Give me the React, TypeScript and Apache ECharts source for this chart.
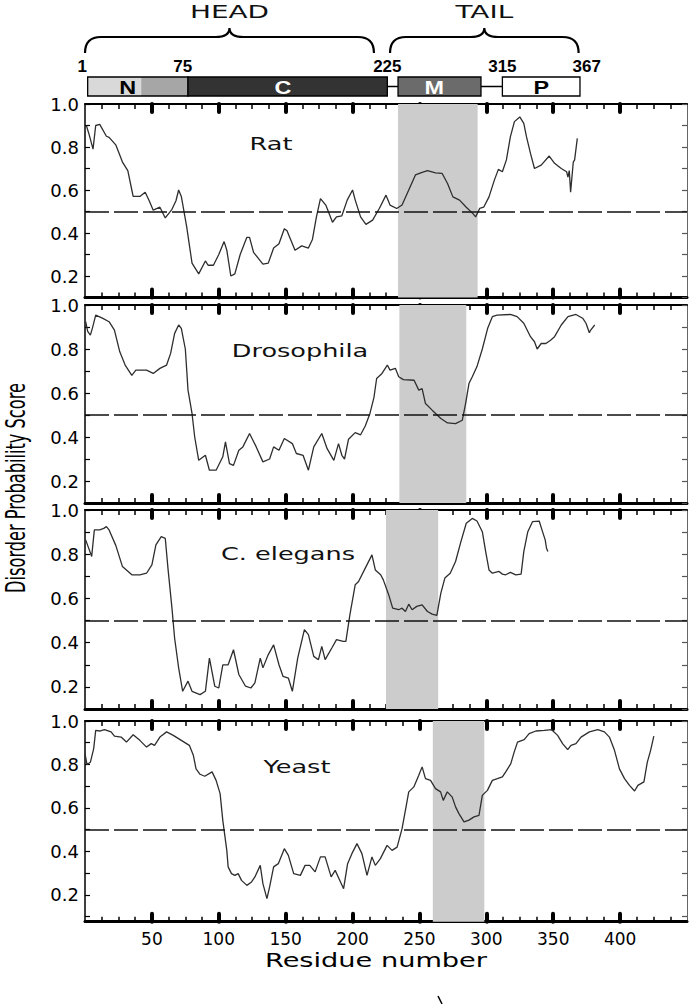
import React, { useEffect, useRef } from "react";
import * as echarts from "echarts";

// ---------- axis ticks ----------
const residueTicks = [50, 100, 150, 200, 250, 300, 350, 400];
const scoreLabels = [0.2, 0.4, 0.6, 0.8, 1.0];
const scoreTicks = [0.1, 0.2, 0.3, 0.4, 0.5, 0.6, 0.7, 0.8, 0.9, 1.0];
const threshold = 0.5;

// ---------- species ----------
const speciesNames = ["Rat", "Drosophila", "C. elegans", "Yeast"];

const ratScores = [
  [1, 0.9], [3, 0.86], [6, 0.79], [8, 0.9], [11, 0.905], [16, 0.85], [18, 0.845], [23, 0.81], [28, 0.73],
  [32, 0.69], [35, 0.6], [36, 0.57], [41, 0.57], [45, 0.59], [48, 0.55], [51, 0.506], [56, 0.52], [60, 0.47],
  [65, 0.51], [68, 0.55], [70, 0.6], [72, 0.57], [76, 0.43], [80, 0.26], [85, 0.21], [90, 0.27], [92, 0.25],
  [96, 0.25], [100, 0.3], [104, 0.36], [106, 0.32], [109, 0.2], [112, 0.21], [116, 0.3], [121, 0.38], [123, 0.38],
  [126, 0.31], [133, 0.255], [137, 0.26], [141, 0.33], [145, 0.35], [149, 0.42], [151, 0.41], [157, 0.32],
  [162, 0.34], [167, 0.33], [170, 0.37], [173, 0.475], [176, 0.56], [180, 0.53], [185, 0.45], [188, 0.475],
  [192, 0.48], [196, 0.553], [200, 0.6], [202, 0.553], [206, 0.475], [210, 0.44], [215, 0.46], [220, 0.514],
  [225, 0.576], [228, 0.53], [233, 0.514], [237, 0.53], [242, 0.6], [247, 0.67], [251, 0.68], [256, 0.69],
  [262, 0.68], [267, 0.677], [271, 0.63], [275, 0.568], [280, 0.553], [285, 0.52], [290, 0.49], [292, 0.475],
  [295, 0.514], [298, 0.52], [302, 0.568], [306, 0.646], [309, 0.696], [312, 0.685], [315, 0.74], [318, 0.848],
  [321, 0.918], [325, 0.94], [328, 0.91], [330, 0.848], [333, 0.77], [336, 0.7], [341, 0.716], [347, 0.758],
  [351, 0.724], [356, 0.7], [360, 0.685], [361, 0.66], [362, 0.69], [363, 0.59], [365, 0.73], [366, 0.74], [368, 0.84],
];

const drosophilaScores = [
  [0.5, 0.924], [2, 0.88], [4, 0.863], [5.5, 0.894], [8, 0.954], [13, 0.94], [18, 0.924], [22, 0.886], [26, 0.787],
  [30, 0.727], [35, 0.68], [38, 0.704], [46, 0.704], [51, 0.689], [56, 0.712], [61, 0.727], [64, 0.78], [67, 0.871],
  [70, 0.909], [72, 0.894], [75, 0.8], [77, 0.613], [80, 0.507], [82, 0.4], [85, 0.294], [90, 0.317], [93, 0.249],
  [98, 0.249], [103, 0.31], [105, 0.378], [108, 0.279], [111, 0.271], [115, 0.34], [118, 0.355], [123, 0.416],
  [128, 0.355], [133, 0.287], [138, 0.3], [141, 0.355], [145, 0.34], [149, 0.393], [155, 0.37], [158, 0.325],
  [163, 0.317], [167, 0.249], [171, 0.355], [177, 0.416], [181, 0.347], [186, 0.294], [189.5, 0.37], [192, 0.317],
  [194, 0.3], [197, 0.39], [202, 0.42], [206, 0.41], [209.5, 0.45], [213, 0.507], [216, 0.58], [218, 0.666],
  [222, 0.689], [226, 0.727], [228, 0.704], [232, 0.712], [234.5, 0.674], [238, 0.661], [246, 0.658], [249.5, 0.613],
  [252, 0.62], [254.5, 0.552], [259.5, 0.522], [266, 0.484], [271, 0.464], [277, 0.461], [282, 0.476], [284.5, 0.552],
  [287, 0.643], [289.5, 0.674], [293, 0.72], [297, 0.8], [301, 0.894], [304.5, 0.947], [308, 0.954], [318, 0.957],
  [323, 0.947], [328, 0.917], [333, 0.856], [336, 0.833], [338, 0.8], [341, 0.825], [344.5, 0.825], [348, 0.84],
  [351, 0.856], [356, 0.909], [361, 0.947], [367, 0.957], [372, 0.94], [374.5, 0.917], [377, 0.874], [378, 0.886],
  [381, 0.909],
];

const elegansScores = [
  [0.5, 0.865], [2, 0.84], [5, 0.79], [7, 0.91], [11, 0.91], [14, 0.917], [16, 0.925], [18, 0.91], [23, 0.84],
  [28, 0.744], [35, 0.707], [41, 0.707], [46, 0.714], [50, 0.752], [53, 0.842], [57, 0.88], [60, 0.872], [62, 0.737],
  [65, 0.556], [67, 0.42], [70, 0.286], [73, 0.18], [77, 0.226], [80, 0.18], [86, 0.165], [90, 0.18], [93, 0.33],
  [97, 0.203], [100, 0.195], [103, 0.3], [107, 0.3], [111, 0.368], [115, 0.256], [120, 0.203], [124, 0.195],
  [127, 0.218], [131, 0.33], [133, 0.286], [137, 0.346], [141, 0.39], [145, 0.3], [148, 0.248], [152, 0.24],
  [155, 0.18], [159, 0.33], [164, 0.459], [167, 0.436], [171, 0.338], [174.5, 0.323], [177, 0.383], [179.5, 0.323],
  [184.5, 0.376], [188, 0.414], [193, 0.406], [195, 0.406], [198, 0.526], [202, 0.662], [204.5, 0.677],
  [209.5, 0.737], [214.5, 0.797], [217, 0.729], [221, 0.707], [223, 0.684], [227, 0.617], [230, 0.556],
  [234.5, 0.549], [237, 0.556], [239.5, 0.541], [242, 0.574], [244.5, 0.549], [248, 0.564], [252, 0.571],
  [256, 0.541], [259.5, 0.529], [263, 0.523], [266, 0.624], [269, 0.692], [273, 0.714], [277, 0.767], [281, 0.857],
  [285, 0.94], [289.5, 0.962], [293, 0.95], [297, 0.902], [299.5, 0.812], [302, 0.729], [304.5, 0.714],
  [309.5, 0.722], [312, 0.71], [314.5, 0.707], [318, 0.718], [322, 0.707], [326, 0.71], [328, 0.812], [331, 0.902],
  [334.5, 0.947], [339.5, 0.95], [342, 0.902], [344, 0.865], [345, 0.827], [346, 0.812],
];

const yeastScores = [
  [0, 0.85], [1.5, 0.8], [4, 0.81], [6.5, 0.873], [8, 0.957], [11, 0.954], [14.5, 0.96], [19.5, 0.95], [22, 0.93],
  [27, 0.926], [31, 0.903], [36, 0.937], [41, 0.911], [46, 0.88], [49.5, 0.896], [52, 0.888], [56, 0.926], [61, 0.95],
  [66, 0.934], [72, 0.911], [78, 0.888], [81, 0.842], [83, 0.78], [86, 0.755], [89.5, 0.746], [95, 0.766],
  [98, 0.727], [101, 0.666], [103, 0.543], [106, 0.405], [107, 0.329], [109.5, 0.298], [112, 0.29], [114.5, 0.298],
  [117, 0.267], [121, 0.244], [124.5, 0.26], [127, 0.283], [131, 0.336], [133, 0.252], [136, 0.183], [138, 0.237],
  [141, 0.329], [144.5, 0.344], [149, 0.413], [152, 0.382], [156, 0.298], [161, 0.29], [164.5, 0.336], [168, 0.336],
  [172, 0.306], [176, 0.375], [179.5, 0.375], [184, 0.283], [187, 0.313], [191, 0.26], [193.3, 0.229],
  [196.3, 0.344], [199.5, 0.39], [203.3, 0.436], [207, 0.39], [210.8, 0.29], [214.5, 0.375], [217, 0.336],
  [220.8, 0.367], [225.8, 0.428], [229.5, 0.405], [233.3, 0.42], [237, 0.505], [239.5, 0.589], [242, 0.674],
  [245.8, 0.697], [249.5, 0.75], [252, 0.789], [254.5, 0.735], [258.3, 0.727], [262, 0.689], [265.8, 0.674],
  [267.8, 0.635], [270.8, 0.674], [274.5, 0.65], [277, 0.605], [279.5, 0.574], [283.3, 0.536], [287, 0.544],
  [290.8, 0.559], [294.5, 0.566], [297, 0.658], [300.8, 0.681], [304.5, 0.727], [308.3, 0.735], [312, 0.743],
  [314.5, 0.766], [318.3, 0.804], [320.8, 0.857], [323.3, 0.903], [328.3, 0.914], [332, 0.942], [337, 0.954],
  [343.3, 0.957], [348.8, 0.96], [353.3, 0.934], [357, 0.896], [360.8, 0.868], [363.3, 0.888], [367, 0.896],
  [370.8, 0.926], [377, 0.95], [383.3, 0.96], [388.3, 0.95], [392, 0.926], [395.8, 0.865], [399.5, 0.78],
  [403.3, 0.735], [407, 0.704], [410.8, 0.678], [413.3, 0.704], [417.8, 0.72], [420.3, 0.81], [422.8, 0.865],
  [425.2, 0.93],
];

const speciesScores = [ratScores, drosophilaScores, elegansScores, yeastScores];

// shaded region (residue start, end) per species
const ratBand = [234, 293.5];
const drosophilaBand = [235, 285];
const elegansBand = [225, 264];
const yeastBand = [260, 298.5];
const speciesBands = [ratBand, drosophilaBand, elegansBand, yeastBand];

// ---------- domain diagram (residues) ----------
const domainNames = ["N", "C", "M", "P"];
const domainStart = [2, 77, 234, 312];
const domainEnd = [77, 226, 296, 370];
const domainLabelAt = [32, 148, 261, 341];
const nSubdomainSplit = 42;
const boundaryNumbers = ["1", "75", "225", "315", "367"];
const boundaryNumberAt = [-2, 73, 226, 312, 375];
const regionNames = ["HEAD", "TAIL"];
const regionStart = [0, 228];
const regionEnd = [216, 369];

// ---------- layout (pixels) ----------
const PLOT_LEFT = 85;
const PLOT_WIDTH = 602;
const PANELS = [
  { top: 104, bottom: 297.5, min: 0.1, title: [271, 143] },
  { top: 305, bottom: 503, min: 0.1, title: [300, 350] },
  { top: 510, bottom: 709, min: 0.1, title: [288, 553] },
  { top: 721, bottom: 921.7, min: 0.077, title: [297, 766] },
];
const DOMAIN_FILL = ["#a6a6a6", "#333333", "#6b6b6b", "#ffffff"];
const DOMAIN_TEXT = ["#000000", "#ffffff", "#ffffff", "#000000"];
const N_LIGHT = "#d9d9d9";
const FONT = '"DejaVu Sans", Verdana, sans-serif';

function renderDiagram(_params: any, api: any) {
  const X = (r: number) => api.coord([r, 0])[0];
  const Y = (v: number) => api.coord([0, v])[1];
  const barTop = Y(77);
  const barBot = Y(96);
  const barMid = (barTop + barBot) / 2;
  const children: any[] = [];

  // braces + region names
  regionStart.forEach((s, i) => {
    const xa = X(s);
    const xb = X(regionEnd[i]);
    const xm = (xa + xb) / 2;
    const yT = Y(28);
    const yA = Y(37);
    const yB = Y(53);
    const d =
      `M${xa},${yB} Q${xa},${yA} ${xa + 16},${yA} L${xm - 14},${yA} Q${xm},${yA} ${xm},${yT} ` +
      `Q${xm},${yA} ${xm + 14},${yA} L${xb - 16},${yA} Q${xb},${yA} ${xb},${yB}`;
    children.push({
      type: "path",
      shape: { pathData: d },
      style: { fill: "none", stroke: "#000", lineWidth: 2.2 },
    });
    children.push({
      type: "text",
      x: xm,
      y: Y(11.5),
      scaleX: 1.55,
      style: {
        text: regionNames[i],
        fontFamily: FONT,
        fontSize: 18,
        fill: "#111",
        align: "center",
        verticalAlign: "middle",
      },
    });
  });

  // connectors between domains
  for (let i = 0; i < domainStart.length - 1; i++) {
    children.push({
      type: "line",
      shape: { x1: X(domainEnd[i]), y1: barMid, x2: X(domainStart[i + 1]), y2: barMid },
      style: { stroke: "#000", lineWidth: 1.5 },
    });
  }

  // domain boxes
  domainStart.forEach((s, i) => {
    const x0 = X(s);
    const x1 = X(domainEnd[i]);
    if (i === 0) {
      const xs = X(nSubdomainSplit);
      children.push({
        type: "rect",
        shape: { x: x0, y: barTop, width: xs - x0, height: barBot - barTop },
        style: { fill: N_LIGHT },
      });
      children.push({
        type: "rect",
        shape: { x: xs, y: barTop, width: x1 - xs, height: barBot - barTop },
        style: { fill: DOMAIN_FILL[0] },
      });
      children.push({
        type: "rect",
        shape: { x: x0, y: barTop, width: x1 - x0, height: barBot - barTop },
        style: { fill: "none", stroke: "#000", lineWidth: 1.3 },
      });
    } else {
      children.push({
        type: "rect",
        shape: { x: x0, y: barTop, width: x1 - x0, height: barBot - barTop },
        style: { fill: DOMAIN_FILL[i], stroke: "#000", lineWidth: 1.3 },
      });
    }
    children.push({
      type: "text",
      x: X(domainLabelAt[i]),
      y: barMid + 1,
      scaleX: 1.3,
      style: {
        text: domainNames[i],
        fontFamily: '"Liberation Sans", Arial, sans-serif',
        fontWeight: "bold",
        fontSize: 18,
        fill: DOMAIN_TEXT[i],
        align: "center",
        verticalAlign: "middle",
      },
    });
  });

  // boundary residue numbers
  boundaryNumbers.forEach((t, i) => {
    children.push({
      type: "text",
      x: X(boundaryNumberAt[i]),
      y: Y(66),
      style: {
        text: t,
        fontFamily: '"Liberation Sans", Arial, sans-serif',
        fontWeight: "bold",
        fontSize: 17,
        fill: "#000",
        align: "center",
        verticalAlign: "middle",
      },
    });
  });

  return { type: "group", children };
}

export default function App() {
  const ref = useRef<HTMLDivElement>(null);

  useEffect(() => {
    if (!ref.current) return;
    const chart = echarts.init(ref.current, null, { renderer: "svg" });

    const grids: any[] = PANELS.map((p) => ({
      left: PLOT_LEFT,
      width: PLOT_WIDTH,
      top: p.top,
      height: p.bottom - p.top,
      containLabel: false,
    }));
    grids.push({ left: PLOT_LEFT, width: PLOT_WIDTH, top: 0, height: 100 });

    const xAxes: any[] = [];
    const yAxes: any[] = [];
    PANELS.forEach((p, k) => {
      const isLast = k === PANELS.length - 1;
      ["bottom", "top"].forEach((pos) => {
        xAxes.push({
          gridIndex: k,
          type: "value",
          position: pos,
          min: 0,
          max: 450,
          interval: 50,
          axisLine: { show: true, onZero: false, lineStyle: { color: "#000", width: pos === "bottom" ? 3 : 2 } },
          axisTick: {
            show: true,
            inside: true,
            length: 8,
            customValues: residueTicks,
            lineStyle: { color: "#000", width: 4, cap: "round" },
          },
          minorTick: { show: true, splitNumber: 4, length: 5, lineStyle: { color: "#000", width: 1.5 } },
          axisLabel: {
            show: pos === "bottom" && isLast,
            customValues: residueTicks,
            fontFamily: FONT,
            fontSize: 17,
            color: "#000",
            margin: 9,
          },
          splitLine: { show: false },
          minorSplitLine: { show: false },
        });
      });
      ["left", "right"].forEach((pos) => {
        yAxes.push({
          gridIndex: k,
          type: "value",
          position: pos,
          min: p.min,
          max: 1,
          axisLine: {
            show: true,
            onZero: false,
            lineStyle: { color: pos === "left" ? "#000" : "#666", width: pos === "left" ? 1.5 : 1 },
          },
          axisTick: {
            show: true,
            inside: true,
            length: 5,
            customValues: scoreTicks,
            lineStyle: { color: pos === "left" ? "#000" : "#555", width: 1.2 },
          },
          axisLabel: {
            show: pos === "left",
            customValues: scoreLabels,
            formatter: (v: number) => v.toFixed(1),
            fontFamily: FONT,
            fontSize: 18,
            color: "#000",
            margin: 6,
          },
          splitLine: { show: false },
        });
      });
    });
    // diagram axes
    xAxes.push({ gridIndex: 4, type: "value", min: 0, max: 450, show: false });
    yAxes.push({ gridIndex: 4, type: "value", min: 0, max: 100, inverse: true, show: false });

    const series: any[] = speciesScores.map((data, k) => ({
      type: "line",
      name: speciesNames[k],
      xAxisIndex: 2 * k,
      yAxisIndex: 2 * k,
      data,
      showSymbol: false,
      symbol: "none",
      lineStyle: { color: "#2e2e2e", width: 1.3 },
      markArea: {
        silent: true,
        itemStyle: { color: "#cccccc" },
        data: [[{ xAxis: speciesBands[k][0] }, { xAxis: speciesBands[k][1] }]],
      },
      markLine: {
        silent: true,
        symbol: ["none", "none"],
        label: { show: false },
        lineStyle: { color: "#111", width: 1.6, type: [24, 5] },
        data: [{ yAxis: threshold }],
      },
      z: 3,
    }));
    series.push({
      type: "custom",
      xAxisIndex: 8,
      yAxisIndex: 8,
      data: [[0, 0]],
      renderItem: renderDiagram,
      silent: true,
    });

    const graphic: any[] = speciesNames.map((n, k) => ({
      type: "text",
      x: PANELS[k].title[0],
      y: PANELS[k].title[1],
      scaleX: 1.42,
      z: 10,
      style: {
        text: n,
        font: `18px ${FONT}`,
        fill: "#111",
        align: "center",
        verticalAlign: "middle",
        textAlign: "center",
        textVerticalAlign: "middle",
      },
    }));
    graphic.push({
      type: "text",
      x: 15,
      y: 488,
      rotation: Math.PI / 2,
      scaleX: 0.6,
      style: {
        text: "Disorder Probability Score",
        font: `27px ${FONT}`,
        fill: "#000",
        align: "center",
        verticalAlign: "middle",
        textAlign: "center",
        textVerticalAlign: "middle",
      },
    });
    graphic.push({
      type: "text",
      x: 376,
      y: 960,
      scaleX: 1.36,
      style: {
        text: "Residue number",
        font: `20px ${FONT}`,
        fill: "#000",
        align: "center",
        verticalAlign: "middle",
        textAlign: "center",
        textVerticalAlign: "middle",
      },
    });
    graphic.push({
      type: "line",
      shape: { x1: 438, y1: 996, x2: 442, y2: 1004 },
      style: { stroke: "#000", lineWidth: 1.5 },
    });

    chart.setOption({
      animation: false,
      backgroundColor: "#ffffff",
      grid: grids,
      xAxis: xAxes,
      yAxis: yAxes,
      series,
      graphic,
    });

    return () => chart.dispose();
  }, []);

  return (
    <div
      ref={ref}
      style={{ position: "absolute", left: 0, top: 0, width: 693, height: 1004, background: "#fff" }}
    />
  );
}
